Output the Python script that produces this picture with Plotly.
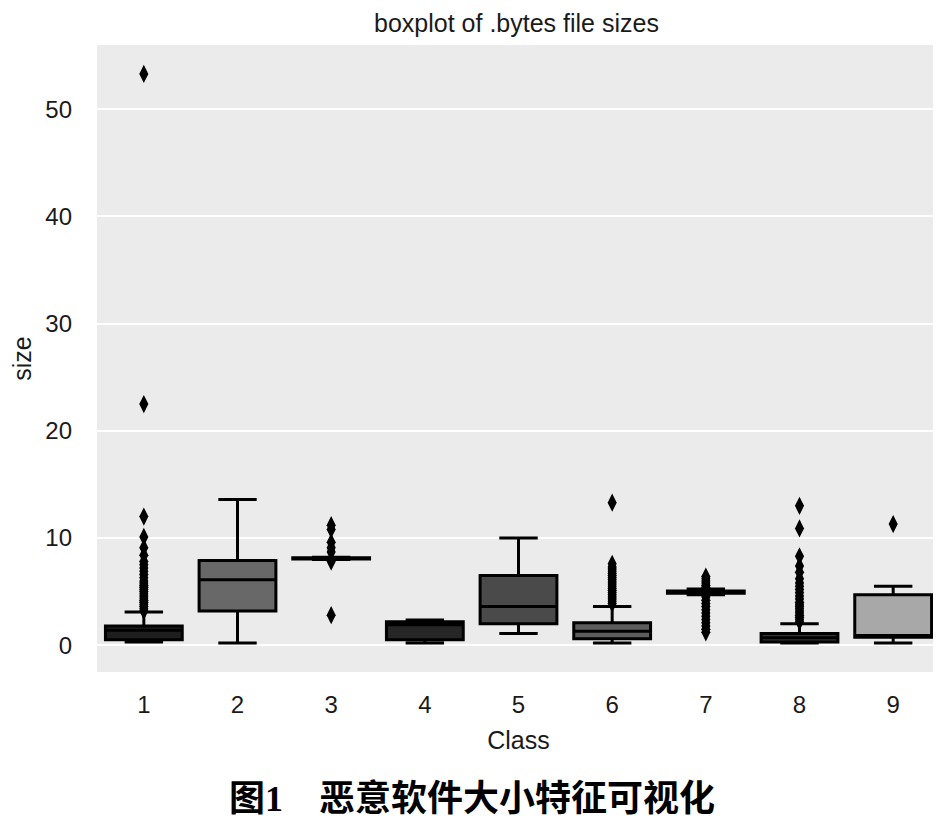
import plotly.graph_objects as go

# class labels
classes = ["1", "2", "3", "4", "5", "6", "7", "8", "9"]

# box statistics (size units)
q1 = [0.5, 3.2, 8.05, 0.5, 2.0, 0.6, 4.85, 0.3, 0.75]
median = [1.4, 6.1, 8.1, 1.9, 3.6, 1.3, 4.95, 0.7, 0.9]
q3 = [1.8, 7.9, 8.15, 2.2, 6.5, 2.1, 5.05, 1.1, 4.7]
lowfence = [0.3, 0.2, 8.0, 0.2, 1.1, 0.2, 4.7, 0.2, 0.2]
highfence = [3.1, 13.6, 8.2, 2.35, 10.0, 3.6, 5.25, 2.0, 5.5]
fills = ["#1e1e1e", "#686868", "#5a5a5a", "#262626", "#4a4a4a",
         "#5c5c5c", "#111111", "#333333", "#a8a8a8"]

# outliers per class
outliers = {
    "1": [3.2, 3.4, 3.6, 3.8, 4.0, 4.2, 4.4, 4.6, 4.8, 5.0, 5.2, 5.4, 5.6,
          5.8, 6.0, 6.3, 6.6, 6.9, 7.2, 7.5, 7.8, 8.4, 9.1, 10.1, 12.0,
          22.5, 53.3],
    "3": [2.8, 7.8, 8.7, 9.1, 9.6, 10.8, 11.2],
    "6": [3.9, 4.1, 4.3, 4.5, 4.7, 4.9, 5.1, 5.3, 5.5, 5.7, 5.9, 6.1, 6.3,
          6.5, 6.7, 6.9, 7.1, 7.3, 7.6, 13.3],
    "7": [1.2, 1.5, 1.8, 2.1, 2.4, 2.7, 3.0, 3.3, 3.6, 3.9, 4.2, 4.5, 5.4,
          5.6, 5.8, 6.0, 6.2, 6.4],
    "8": [2.2, 2.4, 2.6, 2.8, 3.0, 3.2, 3.4, 3.6, 3.8, 4.0, 4.3, 4.6, 4.9,
          5.2, 5.5, 5.8, 6.2, 6.8, 7.4, 8.3, 10.9, 13.0],
    "9": [11.3],
}

fig = go.Figure()

for i, c in enumerate(classes):
    fig.add_trace(go.Box(
        x=[c],
        q1=[q1[i]], median=[median[i]], q3=[q3[i]],
        lowerfence=[lowfence[i]], upperfence=[highfence[i]],
        boxpoints=False,
        width=0.82,
        whiskerwidth=0.5,
        fillcolor=fills[i],
        line=dict(color="#000000", width=3),
        hoverinfo="skip",
    ))

for c, vals in outliers.items():
    fig.add_trace(go.Scatter(
        x=[c] * len(vals), y=vals,
        mode="markers",
        marker=dict(symbol="diamond-tall", size=13, color="#000000"),
        hoverinfo="skip",
    ))

# page body has an 8px margin, so the figure is a bit smaller than the window
fig.update_layout(
    width=933, height=816,
    margin=dict(l=89, r=1, t=37, b=152),
    paper_bgcolor="white",
    plot_bgcolor="#ebebeb",
    showlegend=False,
    font=dict(family="Liberation Sans, Arial, sans-serif", size=24, color="#1a1a1a"),
    title=dict(text="boxplot of .bytes file sizes", x=0.545, xanchor="center",
               y=0.981, yanchor="middle", font=dict(size=25)),
    xaxis=dict(
        type="category", categoryorder="array", categoryarray=classes,
        range=[-0.5, 8.5], showgrid=False, zeroline=False, ticks="",
        ticklabelstandoff=16,
        title=dict(text="Class", font=dict(size=25), standoff=14),
    ),
    yaxis=dict(
        range=[-2.5, 56], tickvals=[0, 10, 20, 30, 40, 50],
        gridcolor="white", gridwidth=2, zeroline=False, ticks="",
        ticklabelstandoff=24,
        title=dict(text="size", font=dict(size=25), standoff=14),
    ),
)

fig.add_annotation(
    text="<b>图1　恶意软件大小特征可视化</b>",
    xref="paper", yref="paper", x=0.445, y=-0.203,
    xanchor="center", yanchor="middle", showarrow=False,
    font=dict(family="Liberation Serif, Noto Sans CJK SC", size=36, color="#000000"),
)

fig.write_html("out.html")
